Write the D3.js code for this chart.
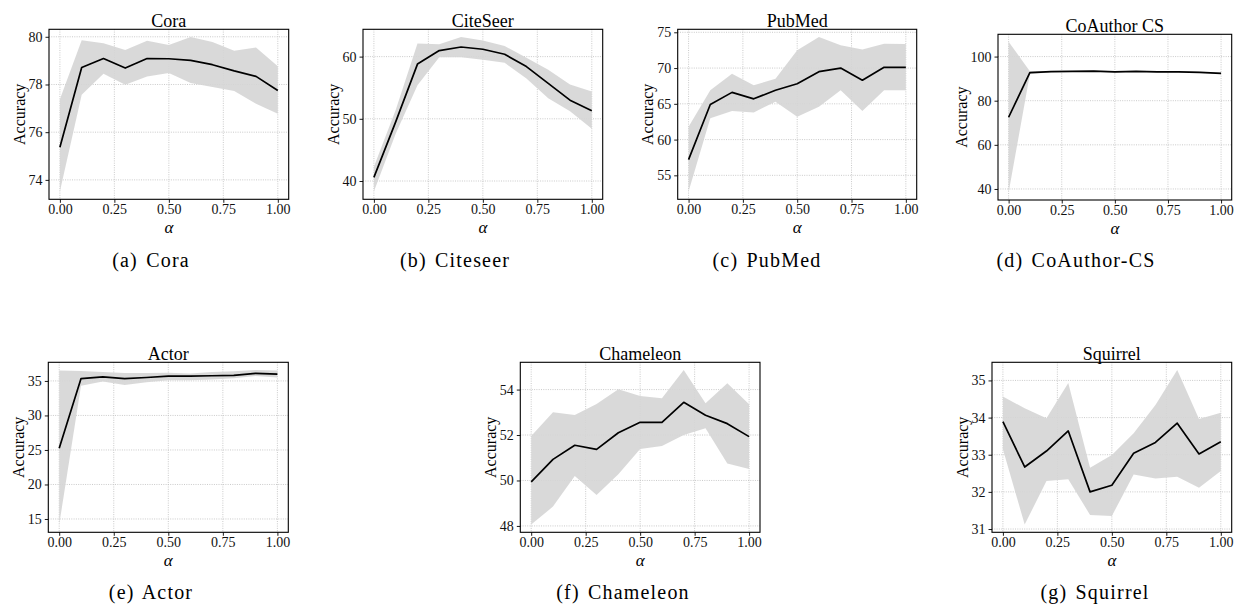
<!DOCTYPE html>
<html><head><meta charset="utf-8">
<script src="https://cdn.jsdelivr.net/npm/d3@7"></script>
<style>
html,body{margin:0;padding:0;background:#fff;}
svg{display:block;}
</style></head>
<body>
<svg id="chart" width="1237" height="604"></svg>
<script>
// ---- data ----
const alphas = [0, 0.1, 0.2, 0.3, 0.4, 0.5, 0.6, 0.7, 0.8, 0.9, 1.0];
const xTicks = [0, 0.25, 0.5, 0.75, 1.0];

const coraMean  = [75.37, 78.71, 79.09, 78.69, 79.09, 79.08, 79.01, 78.83, 78.57, 78.34, 77.75];
const coraUpper = [77.38, 79.85, 79.73, 79.45, 79.83, 79.66, 79.99, 79.78, 79.41, 79.55, 78.76];
const coraLower = [73.51, 77.57, 78.45, 77.99, 78.34, 78.48, 78.06, 77.89, 77.73, 77.19, 76.77];
const coraTicks = [74, 76, 78, 80];

const citeMean  = [40.59, 49.5, 58.8, 60.97, 61.55, 61.18, 60.38, 58.4, 55.7, 53.0, 51.3];
const citeUpper = [42.3, 51.4, 62.1, 61.98, 63.15, 62.6, 61.7, 59.8, 57.9, 55.5, 54.4];
const citeLower = [38.3, 47.6, 55.4, 59.9, 59.9, 59.5, 59.0, 56.5, 53.3, 51.2, 48.4];
const citeTicks = [40, 50, 60];

const pubMean  = [57.2, 64.9, 66.6, 65.7, 66.9, 67.8, 69.5, 70.0, 68.3, 70.1, 70.1];
const pubUpper = [61.8, 66.9, 69.2, 67.6, 68.5, 72.5, 74.34, 73.2, 72.6, 73.4, 73.35];
const pubLower = [52.73, 63.0, 64.0, 63.8, 65.3, 63.2, 64.6, 66.9, 64.0, 66.9, 66.9];
const pubTicks = [55, 60, 65, 70, 75];

const csMean  = [72.5, 92.7, 93.2, 93.3, 93.4, 93.1, 93.3, 93.1, 93.1, 92.8, 92.4];
const csUpper = [106.68, 93.4, 93.5, 93.6, 93.7, 93.4, 93.6, 93.4, 93.4, 93.1, 92.7];
const csLower = [38.41, 92.0, 92.9, 93.0, 93.1, 92.8, 93.0, 92.8, 92.8, 92.5, 92.1];
const csTicks = [40, 60, 80, 100];

const actorMean  = [25.25, 35.34, 35.58, 35.34, 35.5, 35.7, 35.7, 35.75, 35.8, 36.1, 36.0];
const actorUpper = [36.5, 36.45, 36.3, 36.15, 36.15, 36.2, 36.06, 36.3, 36.4, 36.58, 36.5];
const actorLower = [14.19, 34.3, 34.9, 34.4, 34.8, 35.1, 35.1, 35.2, 35.4, 35.7, 35.5];
const actorTicks = [15, 20, 25, 30, 35];

const chamMean  = [49.94, 50.93, 51.55, 51.37, 52.1, 52.56, 52.56, 53.44, 52.87, 52.5, 51.93];
const chamUpper = [51.96, 53.0, 52.88, 53.37, 54.01, 53.72, 53.62, 54.86, 53.4, 54.28, 53.35];
const chamLower = [48.06, 48.85, 50.2, 49.36, 50.27, 51.38, 51.52, 52.0, 52.3, 50.75, 50.5];
const chamTicks = [48, 50, 52, 54];

const sqMean  = [33.89, 32.67, 33.1, 33.64, 32.0, 32.18, 33.04, 33.33, 33.85, 33.02, 33.35];
const sqUpper = [34.57, 34.25, 33.98, 34.93, 32.65, 32.99, 33.58, 34.34, 35.28, 33.96, 34.13];
const sqLower = [33.15, 31.12, 32.29, 32.34, 31.38, 31.35, 32.47, 32.36, 32.41, 32.11, 32.56];
const sqTicks = [31, 32, 33, 34, 35];

const titles   = ["Cora", "CiteSeer", "PubMed", "CoAuthor CS", "Actor", "Chameleon", "Squirrel"];
const captions = ["(a) Cora", "(b) Citeseer", "(c) PubMed", "(d) CoAuthor-CS", "(e) Actor", "(f) Chameleon", "(g) Squirrel"];

// ---- layout ----
const panels = [
  {mean: coraMean,  upper: coraUpper,  lower: coraLower,  ticks: coraTicks,  box: [49, 288.7, 29.3, 199.3],   cap: [151, 266.5]},
  {mean: citeMean,  upper: citeUpper,  lower: citeLower,  ticks: citeTicks,  box: [363, 602.7, 29.3, 199.3],  cap: [455, 266.5]},
  {mean: pubMean,   upper: pubUpper,   lower: pubLower,   ticks: pubTicks,   box: [677.7, 916.7, 29.3, 199.3], cap: [767, 266.5]},
  {mean: csMean,    upper: csUpper,    lower: csLower,    ticks: csTicks,    box: [998, 1231.7, 34.3, 200],    cap: [1076, 266.5]},
  {mean: actorMean, upper: actorUpper, lower: actorLower, ticks: actorTicks, box: [48.3, 288.3, 362.3, 532.3], cap: [151, 599]},
  {mean: chamMean,  upper: chamUpper,  lower: chamLower,  ticks: chamTicks,  box: [520.3, 760, 362.3, 532.3],  cap: [623, 599]},
  {mean: sqMean,    upper: sqUpper,    lower: sqLower,    ticks: sqTicks,    box: [992, 1231.7, 362.3, 532.3],  cap: [1095, 599]}
];

const svg = d3.select("#chart");
const SERIF = "'Liberation Serif','Times New Roman',serif";

panels.forEach((p, i) => {
  const [L, R, T, B] = p.box;
  const x = d3.scaleLinear().domain([-0.05, 1.05]).range([L, R]);
  const lo = d3.min(p.lower), hi = d3.max(p.upper), pad = (hi - lo) * 0.05;
  const y = d3.scaleLinear().domain([lo - pad, hi + pad]).range([B, T]);

  const g = svg.append("g");

  // grid
  g.selectAll(".gx").data(xTicks).enter().append("line")
    .attr("x1", d => x(d)).attr("x2", d => x(d)).attr("y1", T).attr("y2", B)
    .attr("stroke", "#bcbcbc").attr("stroke-width", 0.8).attr("stroke-dasharray", "1,1.3");
  g.selectAll(".gy").data(p.ticks).enter().append("line")
    .attr("x1", L).attr("x2", R).attr("y1", d => y(d)).attr("y2", d => y(d))
    .attr("stroke", "#bcbcbc").attr("stroke-width", 0.8).attr("stroke-dasharray", "1,1.3");

  const clipId = "clip" + i;
  svg.append("clipPath").attr("id", clipId).append("rect")
    .attr("x", L).attr("y", T).attr("width", R - L).attr("height", B - T);

  const band = alphas.map((a, k) => ({a, lo: p.lower[k], hi: p.upper[k], m: p.mean[k]}));
  g.append("path").datum(band)
    .attr("clip-path", `url(#${clipId})`)
    .attr("fill", "#d5d5d5").attr("fill-opacity", 0.9)
    .attr("d", d3.area().x(d => x(d.a)).y0(d => y(d.lo)).y1(d => y(d.hi)));
  g.append("path").datum(band)
    .attr("clip-path", `url(#${clipId})`)
    .attr("fill", "none").attr("stroke", "#000").attr("stroke-width", 1.7)
    .attr("stroke-linejoin", "round")
    .attr("d", d3.line().x(d => x(d.a)).y(d => y(d.m)));

  // axes
  const xa = g.append("g").attr("transform", `translate(0,${B})`)
    .call(d3.axisBottom(x).tickValues(xTicks).tickFormat(d3.format(".2f")).tickSizeInner(3.5).tickSizeOuter(0).tickPadding(1.7));
  const ya = g.append("g").attr("transform", `translate(${L},0)`)
    .call(d3.axisLeft(y).tickValues(p.ticks).tickFormat(d3.format("d")).tickSizeInner(3.5).tickSizeOuter(0).tickPadding(3));
  [xa, ya].forEach(a => {
    a.select(".domain").remove();
    a.selectAll(".tick line").attr("stroke", "#000").attr("stroke-width", 0.9);
    a.selectAll(".tick text").attr("font-family", SERIF).attr("font-size", 14).attr("fill", "#111");
  });

  // spines
  g.append("rect").attr("x", L).attr("y", T).attr("width", R - L).attr("height", B - T)
    .attr("fill", "none").attr("stroke", "#000").attr("stroke-width", 1.1);

  // title
  g.append("text").attr("x", (L + R) / 2).attr("y", T - 2.6).attr("text-anchor", "middle")
    .attr("font-family", SERIF).attr("font-size", 18).attr("fill", "#000").text(titles[i]);

  // y label
  let maxW = 0;
  ya.selectAll(".tick text").each(function () { maxW = Math.max(maxW, this.getBBox().width); });
  const yl = L - 3.5 - 3 - maxW - 4;
  g.append("text").attr("transform", `translate(${yl},${(T + B) / 2}) rotate(-90)`)
    .attr("text-anchor", "middle").attr("font-family", SERIF).attr("font-size", 16).attr("fill", "#000")
    .text("Accuracy");

  // x label
  g.append("text").attr("x", x(0.5)).attr("y", B + 34).attr("text-anchor", "middle")
    .attr("font-family", SERIF).attr("font-style", "italic").attr("font-size", 17).attr("fill", "#000")
    .text("α");

  // caption
  g.append("text").attr("x", p.cap[0]).attr("y", p.cap[1]).attr("text-anchor", "middle")
    .attr("font-family", SERIF).attr("font-size", 20).attr("letter-spacing", 1.2).attr("word-spacing", 2)
    .attr("fill", "#000").text(captions[i]);
});
</script>
</body></html>
